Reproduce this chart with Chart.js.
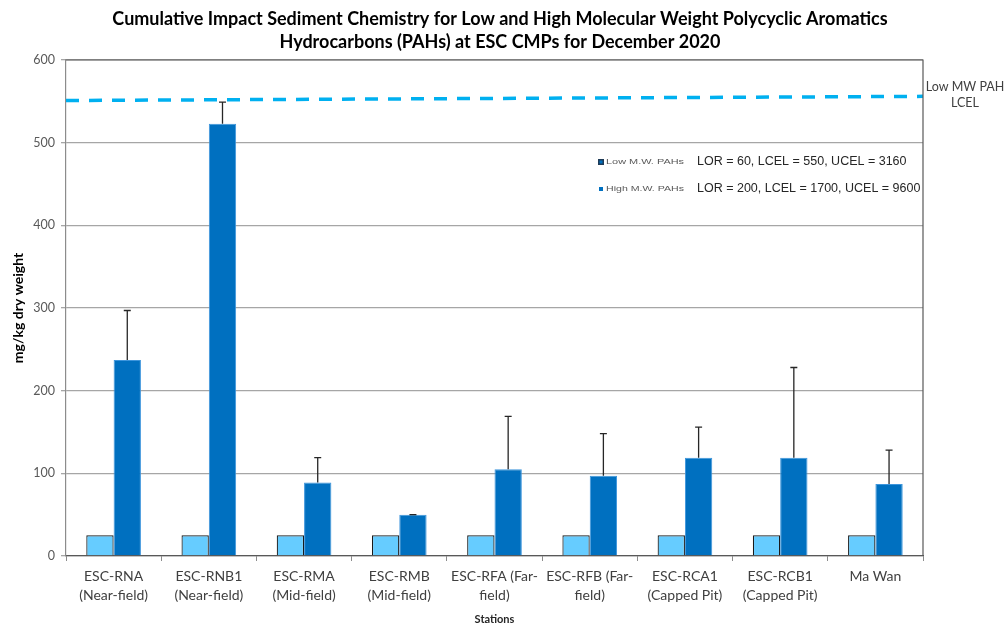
<!DOCTYPE html>
<html>
<head>
<meta charset="utf-8">
<script src="https://cdn.jsdelivr.net/npm/chart.js@4.4.1/dist/chart.umd.min.js"></script>
<style>
  html, body { margin: 0; padding: 0; background: #fff; }
  #wrap { width: 1006px; height: 628px; position: relative; }
</style>
</head>
<body>
<div id="wrap"><canvas id="chart"></canvas></div>
<script>
"use strict";

// ---------------------------------------------------------------------------
// Data
// ---------------------------------------------------------------------------
const STATIONS = [
  ["ESC-RNA", "(Near-field)"],
  ["ESC-RNB1", "(Near-field)"],
  ["ESC-RMA", "(Mid-field)"],
  ["ESC-RMB", "(Mid-field)"],
  ["ESC-RFA (Far-", "field)"],
  ["ESC-RFB (Far-", "field)"],
  ["ESC-RCA1", "(Capped Pit)"],
  ["ESC-RCB1", "(Capped Pit)"],
  ["Ma Wan"],
];
const LOW_MW = [25, 25, 25, 25, 25, 25, 25, 25, 25];
const HIGH_MW = [237, 523, 89, 50, 105, 97, 119, 119, 87];
const HIGH_MW_ERR_TOP = [297, 549, 119, 50, 169, 148, 156, 228, 128];
// LCEL reference line: value at the left (0) and right (1) edge of the plot
const LCEL_LINE_X = [0, 1];
const LCEL_LINE_Y = [551, 556];
const Y_TICKS = [0, 100, 200, 300, 400, 500, 600];

const TITLE = [
  "Cumulative Impact Sediment Chemistry for Low and High Molecular Weight Polycyclic Aromatics",
  "Hydrocarbons (PAHs) at ESC CMPs for December 2020",
];
const LEGEND = [
  ["Low M.W. PAHs", "LOR = 60, LCEL = 550, UCEL = 3160"],
  ["High M.W. PAHs", "LOR = 200, LCEL = 1700, UCEL = 9600"],
];

const LIGHT = "#66ccff";
const DARK = "#0070c0";
const LINE = "#00b0f0";
const FONT = "Lato, 'Open Sans', sans-serif";
const ARIAL = "'Liberation Sans', Arial, sans-serif";

// ---------------------------------------------------------------------------
// Plugins: LCEL line, error bars, frame, free text
// ---------------------------------------------------------------------------

// The dashed LCEL line spans the whole plot width; a second x axis upsets the
// grouped-bar layout, so it is drawn here from the y scale instead.
const lcelLine = {
  id: "lcelLine",
  afterDatasetsDraw(chart) {
    const { left, right } = chart.chartArea;
    const y = chart.scales.y;
    const ctx = chart.ctx;
    ctx.save();
    ctx.strokeStyle = LINE;
    ctx.lineWidth = 3.5;
    ctx.setLineDash([13, 10]);
    ctx.beginPath();
    LCEL_LINE_X.forEach((fx, i) => {
      const px = left + fx * (right - left);
      const py = y.getPixelForValue(LCEL_LINE_Y[i]);
      if (i === 0) ctx.moveTo(px, py);
      else ctx.lineTo(px, py);
    });
    ctx.stroke();
    ctx.restore();
  },
};

const errorBars = {
  id: "errorBars",
  afterDatasetsDraw(chart) {
    const meta = chart.getDatasetMeta(1);
    const y = chart.scales.y;
    const ctx = chart.ctx;
    ctx.save();
    ctx.strokeStyle = "#262626";
    ctx.lineWidth = 1.3;
    meta.data.forEach((bar, i) => {
      const top = y.getPixelForValue(HIGH_MW_ERR_TOP[i]);
      ctx.beginPath();
      ctx.moveTo(bar.x, bar.y);
      ctx.lineTo(bar.x, top);
      ctx.moveTo(bar.x - 3.5, top);
      ctx.lineTo(bar.x + 3.5, top);
      ctx.stroke();
    });
    ctx.restore();
  },
};

const frame = {
  id: "frame",
  afterDraw(chart) {
    const { left, right, top, bottom } = chart.chartArea;
    const ctx = chart.ctx;
    ctx.save();
    ctx.strokeStyle = "#595959";
    ctx.lineWidth = 1.2;
    ctx.beginPath();
    ctx.moveTo(left, top);
    ctx.lineTo(right, top);
    ctx.lineTo(right, bottom);
    ctx.stroke();
    ctx.restore();
  },
};

const texts = {
  id: "texts",
  afterDraw(chart) {
    const ctx = chart.ctx;
    ctx.save();
    ctx.textBaseline = "middle";

    // title
    ctx.fillStyle = "#000";
    ctx.textAlign = "center";
    ctx.font = `bold 18px ${FONT}`;
    ctx.fillText(TITLE[0], 500, 19);
    ctx.fillText(TITLE[1], 500, 42);

    // right-hand label for the LCEL line
    ctx.fillStyle = "#404040";
    ctx.font = `12.5px ${FONT}`;
    ctx.fillText("Low MW PAH", 965, 87);
    ctx.fillText("LCEL", 965, 103);

    // legend: small swatch + stretched tiny name, then the limits
    ctx.textAlign = "left";
    const rows = [162, 189];
    LEGEND.forEach(([name, limits], i) => {
      const yy = rows[i];
      if (i === 0) {
        ctx.fillStyle = "#1f3b57";
        ctx.fillRect(598, yy - 3, 6, 6);
        ctx.fillStyle = DARK;
        ctx.fillRect(599.5, yy - 1.5, 3, 3);
      } else {
        ctx.fillStyle = DARK;
        ctx.fillRect(599, yy - 2, 4, 4);
      }
      ctx.fillStyle = "#595959";
      ctx.font = `8px ${ARIAL}`;
      const w = ctx.measureText(name).width;
      ctx.save();
      ctx.translate(606, yy);
      ctx.scale(78 / w, 1);
      ctx.fillText(name, 0, 0);
      ctx.restore();
      ctx.fillStyle = "#262626";
      ctx.font = `12.5px ${ARIAL}`;
      ctx.fillText(limits, 697, yy);
    });
    ctx.restore();
  },
};

// ---------------------------------------------------------------------------
// Chart
// ---------------------------------------------------------------------------
new Chart(document.getElementById("chart"), {
  type: "bar",
  data: {
    labels: STATIONS,
    datasets: [
      {
        label: "Low M.W. PAHs",
        data: LOW_MW,
        backgroundColor: LIGHT,
        borderColor: "#1a1a1a",
        borderWidth: { top: 1.2, left: 1.2, right: 1.2, bottom: 0 },
        categoryPercentage: 0.574,
        barPercentage: 1,
      },
      {
        label: "High M.W. PAHs",
        data: HIGH_MW,
        backgroundColor: DARK,
        borderColor: "#3d95dc",
        borderWidth: { top: 1, left: 1, right: 1, bottom: 0 },
        categoryPercentage: 0.574,
        barPercentage: 1,
      },
    ],
  },
  plugins: [errorBars, lcelLine, frame, texts],
  options: {
    responsive: true,
    maintainAspectRatio: false,
    animation: false,
    layout: { padding: { top: 60, right: 83, bottom: 2, left: 10 } },
    plugins: {
      legend: { display: false },
      title: { display: false },
      tooltip: { enabled: false },
    },
    scales: {
      x: {
        offset: true,
        grid: {
          offset: true,
          drawOnChartArea: false,
          drawTicks: true,
          tickLength: 5,
          color: "#8c8c8c",
        },
        border: { color: "#595959", width: 1.2 },
        ticks: {
          color: "#404040",
          font: { family: FONT, size: 14, lineHeight: 1.35 },
          padding: 6,
          maxRotation: 0,
          autoSkip: false,
        },
        title: {
          display: true,
          text: "Stations",
          color: "#262626",
          font: { family: FONT, size: 11, weight: "bold" },
          padding: { top: 0, bottom: 0 },
        },
        afterFit(scale) { scale.height = 70; },
      },
      y: {
        min: 0,
        max: 600,
        afterBuildTicks(scale) { scale.ticks = Y_TICKS.map((v) => ({ value: v })); },
        grid: {
          color: "#a6a6a6",
          lineWidth: 1.3,
          tickLength: 5,
        },
        border: { color: "#8c8c8c", width: 1.2 },
        ticks: {
          color: "#595959",
          font: { family: FONT, size: 12.5 },
          padding: 6,
        },
        title: {
          display: true,
          text: "mg/kg dry weight",
          color: "#000",
          font: { family: FONT, size: 14, weight: "bold" },
          padding: { top: 0, bottom: 0 },
        },
        afterFit(scale) { scale.width = 56; },
      },
    },
  },
});
</script>
</body>
</html>
